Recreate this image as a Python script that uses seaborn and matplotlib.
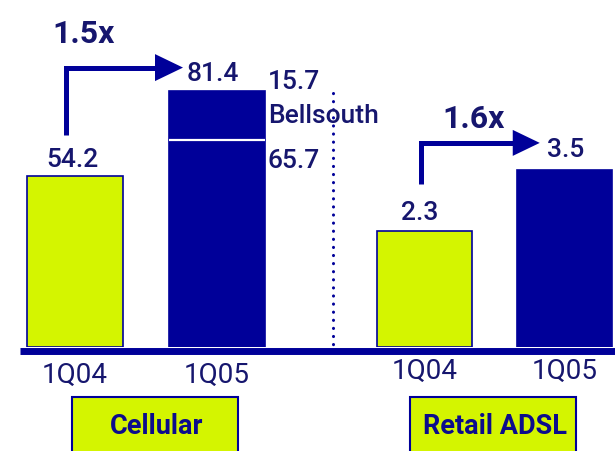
import matplotlib
matplotlib.use("Agg")
import matplotlib.pyplot as plt
from matplotlib.lines import Line2D
from matplotlib.patches import Rectangle, Polygon
from matplotlib.transforms import IdentityTransform
import numpy as np
import pandas as pd
import seaborn as sns

# ---- data -------------------------------------------------------------
periods = ["1Q04", "1Q05"]
cellular = [54.2, 81.4]
cellular_bellsouth = 15.7          # portion of 1Q05 cellular from Bellsouth
cellular_organic = 65.7
adsl = [2.3, 3.5]
growth_labels = ["1.5x", "1.6x"]
group_names = ["Cellular", "Retail ADSL"]

# ---- style ------------------------------------------------------------
sns.set_theme(style="white")
plt.rcParams["font.family"] = ["Roboto", "DejaVu Sans"]

NAVY = "#000099"
LIME = "#D4F500"
INK = "#16166E"
BOXINK = "#0C0C8C"

W, H = 615, 451
fig = plt.figure(figsize=(W / 100, H / 100), dpi=100)
fig.patch.set_facecolor("white")

BASE = 347          # baseline, pixels from top


def fbox(left, top, right, bottom):
    """Figure-fraction rect from pixel edges (top-origin)."""
    return [left / W, (H - bottom) / H, (right - left) / W, (bottom - top) / H]


# axes: each group has its own value scale, sharing the baseline
ax_c = fig.add_axes(fbox(4, 0, 288, BASE))
ax_a = fig.add_axes(fbox(354, 0, 635, BASE))
ax_c.set_ylim(0, BASE / 3.15)
ax_a.set_ylim(0, BASE / 50.6)

df_c = pd.DataFrame({"period": periods, "value": cellular})
df_a = pd.DataFrame({"period": periods, "value": adsl})
pal = {periods[0]: LIME, periods[1]: NAVY}

for ax, df in ((ax_c, df_c), (ax_a, df_a)):
    sns.barplot(data=df, x="period", y="value", hue="period", palette=pal,
                width=0.676, dodge=False, legend=False, ax=ax,
                saturation=1, edgecolor=NAVY, linewidth=1.2)
    ax.set_xlim(-0.5, 1.5)
    ax.patch.set_alpha(0)
    for s in ax.spines.values():
        s.set_visible(False)
    ax.set_xlabel("")
    ax.set_ylabel("")
    ax.set_yticks([])
    ax.tick_params(axis="x", length=0, labelsize=20, labelcolor=INK)

ax_c.tick_params(axis="x", pad=11)
ax_a.tick_params(axis="x", pad=8)

# split of 1Q05 cellular: white rule between organic and Bellsouth portions
ax_c.plot([1 - 0.338, 1 + 0.338], [cellular_organic, cellular_organic],
          color="white", lw=1.6, solid_capstyle="butt", zorder=5)


def px(ax, x, y, dx=0, dy=0):
    """Display coords of data point shifted by (dx right, dy up) pixels."""
    X, Y = ax.transData.transform((x, y))
    return X + dx, Y + dy


def txt(xy, s, **kw):
    fig.text(xy[0], xy[1], s, transform=IdentityTransform(), **kw)


num_kw = dict(fontsize=19, color=INK, fontweight="medium", va="baseline")

# value labels
txt(px(ax_c, 0, cellular[0], -3, 9), "54.2", ha="center", **num_kw)
txt(px(ax_c, 1, cellular[1], -30, 10), "81.4", ha="left", **num_kw)
txt(px(ax_a, 0, adsl[0], -5, 11), "2.3", ha="center", **num_kw)
txt(px(ax_a, 1, adsl[1], -18, 13), "3.5", ha="left", **num_kw)

# Bellsouth breakdown, right of the 1Q05 cellular bar
rx = 1 + 0.338
txt(px(ax_c, rx, cellular_organic, 3, 51), f"{cellular_bellsouth}", ha="left", **num_kw)
txt(px(ax_c, rx, cellular_organic, 3, 17), "Bellsouth", ha="left", **num_kw)
txt(px(ax_c, rx, cellular_organic, 3, -28), f"{cellular_organic}", ha="left", **num_kw)


# growth arrows
def growth_arrow(ax, vals, dx0, up0, up1, tipdx, head_len, head_half, label,
                 lab_dx, lab_up):
    x0, y0 = px(ax, 0, vals[0], dx0, up0)
    _, yh = px(ax, 1, vals[1], 0, up1)
    xt, _ = px(ax, 1, vals[1], tipdx, 0)
    fig.add_artist(Line2D([x0, x0, xt - head_len + 1], [y0, yh, yh],
                          transform=IdentityTransform(), color=NAVY, lw=3.6,
                          solid_joinstyle="miter", solid_capstyle="butt"))
    fig.add_artist(Polygon([[xt - head_len, yh + head_half], [xt, yh],
                            [xt - head_len, yh - head_half]], closed=True,
                           transform=IdentityTransform(), color=NAVY, lw=0))
    txt((x0 + lab_dx, yh + lab_up), label, ha="center", va="baseline",
        fontsize=23, fontweight="bold", color=INK)


growth_arrow(ax_c, cellular, -9.5, 41, 23, -34, 28, 13.5, growth_labels[0], 18.5, 25)
growth_arrow(ax_a, adsl, -3, 47, 27, -25, 27, 13, growth_labels[1], 52, 15)

# baseline rule
fig.add_artist(Line2D([20, W], [H - 350.5, H - 350.5], transform=IdentityTransform(),
                      color=NAVY, lw=5.0, solid_capstyle="butt", zorder=1))

# dotted separator between the groups
fig.add_artist(Line2D([333, 333], [H - 93, H - 347], transform=IdentityTransform(),
                      color=NAVY, lw=2.2, linestyle=(0, (0.05, 2.6)),
                      dash_capstyle="round"))

# group name boxes
for (l, r), name in zip(((72, 238), (410, 576)), group_names):
    fig.add_artist(Rectangle((l, H - 460), r - l, 460 - 397,
                             transform=IdentityTransform(), facecolor=LIME,
                             edgecolor=NAVY, lw=1.5))
    txt(((l + r) / 2 + 2, H - 426), name, ha="center", va="center",
        fontsize=19.5, fontweight="bold", color=BOXINK)

fig.savefig("out.png", dpi=100)
